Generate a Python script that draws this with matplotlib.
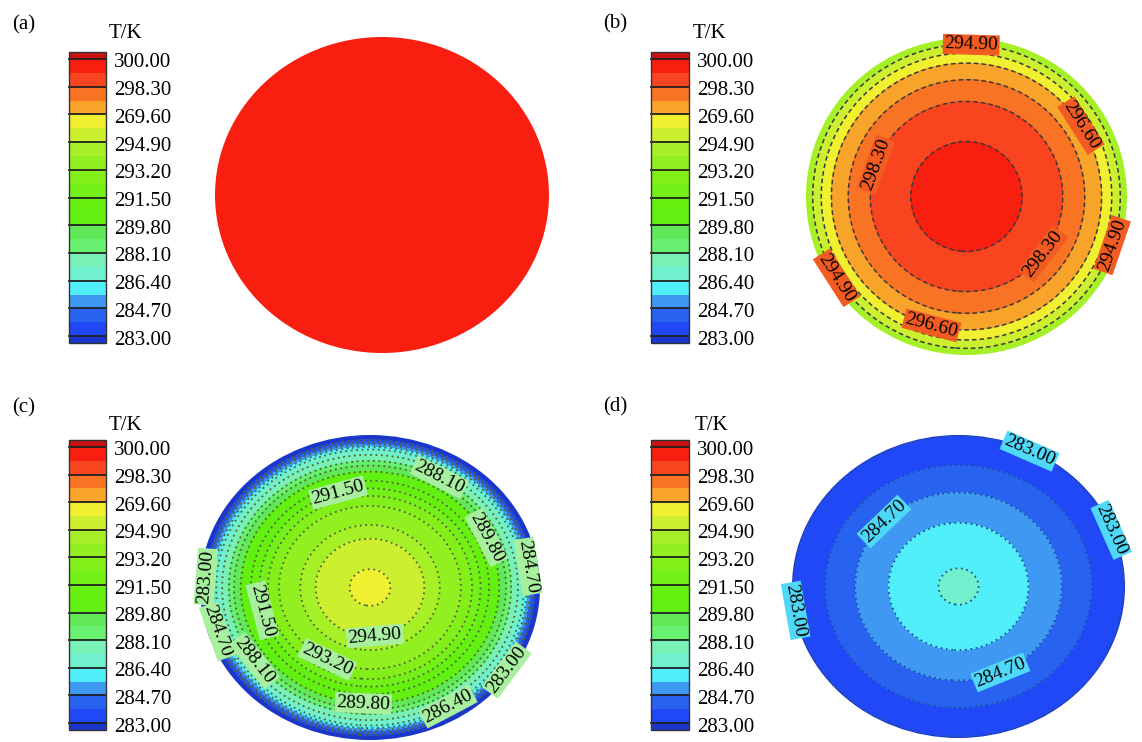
import numpy as np
import matplotlib
matplotlib.use('Agg')
import matplotlib.pyplot as plt
from matplotlib.colors import ListedColormap, BoundaryNorm
from matplotlib.patches import Circle

plt.rcParams['font.family'] = ['Liberation Serif', 'DejaVu Serif']

W, H = 1142, 742

# temperature scale shared by all four panels
levels = np.round(np.linspace(283.0, 300.0, 21), 2)
major = levels[::2]
tick_text = ['283.00', '284.70', '286.40', '288.10', '289.80', '291.50',
             '293.20', '294.90', '269.60', '298.30', '300.00']
band_colors = ['#2048f6', '#2862f0', '#3f98f2', '#50eef8', '#70f0cc',
               '#78f0b6', '#68f070', '#60e858', '#62f012', '#66f010',
               '#72f018', '#82f018', '#92f020', '#a6f028', '#ccf030',
               '#f0f030', '#f8a42a', '#f87424', '#f84520', '#f81e10']

# radial temperature profiles, r normalised to the disc radius
r_a = [0.0, 1.0]
T_a = [300.0, 300.0]

r_b = [0.0, 0.347, 0.60, 0.737, 0.842, 0.905, 0.958, 1.0]
T_b = [299.7, 299.15, 298.3, 297.45, 296.6, 295.75, 294.9, 294.3]

r_c = [0.0, 0.12, 0.32, 0.41, 0.535, 0.60, 0.65, 0.70, 0.76, 0.80,
       0.83, 0.87, 0.905, 0.922, 0.94, 0.955, 0.968, 1.0]
T_c = [296.1, 295.75, 294.9, 294.05, 293.2, 292.35, 291.5, 290.65, 289.8,
       288.95, 288.1, 287.25, 286.4, 285.55, 284.7, 283.85, 283.0, 282.7]

r_d = [0.0, 0.12, 0.42, 0.62, 0.80, 0.99, 1.0]
T_d = [286.8, 286.4, 285.55, 284.7, 283.85, 283.0, 282.98]

cmap = ListedColormap(band_colors).with_extremes(under='#1a36cc', over='#c81212')
norm = BoundaryNorm(levels, cmap.N)

panels = [
    dict(tag='(a)', r=r_a, T=T_a, tag_xy=(12, 25), tk_xy=(109, 33),
         cbar=(69, 52, 37, 291), disc=(215, 37, 334, 316),
         lines=None, labels=[]),
    dict(tag='(b)', r=r_b, T=T_b, tag_xy=(603, 24), tk_xy=(693, 33),
         cbar=(651, 52, 38, 291), disc=(806, 38, 321, 317),
         lines=dict(colors='#3a3a3a', linewidths=1.1, linestyles=[(0, (3, 2))]),
         box='#f25c22',
         labels=[(294.9, (0.03, 0.99)), (296.6, (0.77, 0.49)),
                 (298.3, (-0.53, 0.19)), (298.3, (0.53, -0.40)),
                 (294.9, (1.0, -0.34)), (294.9, (-0.82, -0.52)),
                 (296.6, (-0.21, -0.78))]),
    dict(tag='(c)', r=r_c, T=T_c, tag_xy=(12, 408), tk_xy=(109, 425),
         cbar=(69, 440, 37, 290), disc=(200, 435, 340, 305),
         lines=dict(colors='#4f6438', linewidths=1.3, linestyles=[(0, (1, 2))]),
         box='#a8f0a0',
         labels=[(288.1, (0.42, 0.75)), (291.5, (-0.19, 0.63)),
                 (289.8, (0.69, 0.33)), (284.7, (0.94, 0.14)),
                 (283.0, (-0.93, 0.07)), (291.5, (-0.60, -0.14)),
                 (284.7, (-0.88, -0.28)), (288.1, (-0.66, -0.46)),
                 (294.9, (0.03, -0.34)), (293.2, (-0.25, -0.47)),
                 (289.8, (-0.04, -0.78)), (286.4, (0.47, -0.80)),
                 (283.0, (0.83, -0.56))]),
    dict(tag='(d)', r=r_d, T=T_d, tag_xy=(603, 407), tk_xy=(695, 425),
         cbar=(651, 440, 38, 290), disc=(792, 435, 333, 303),
         lines=dict(colors='#1f4f9f', linewidths=1.3, linestyles=[(0, (1, 2))]),
         box='#50d8f8',
         labels=[(283.0, (0.43, 0.90)), (283.0, (0.91, 0.37)),
                 (284.7, (-0.44, 0.42)), (283.0, (-0.99, -0.16)),
                 (284.7, (0.27, -0.62))]),
]


def px_axes(fig, left, top, width, height):
    return fig.add_axes([left / W, 1 - (top + height) / H, width / W, height / H])


fig = plt.figure(figsize=(W / 100, H / 100), dpi=100)

g = np.linspace(-1.05, 1.05, 600)
X, Y = np.meshgrid(g, g)
R = np.hypot(X, Y)

for p in panels:
    # disc
    ax = px_axes(fig, *p['disc'])
    ax.set_xlim(-1, 1)
    ax.set_ylim(-1, 1)
    ax.axis('off')
    Z = np.interp(R, p['r'], p['T'])
    if np.ptp(p['T']) == 0:
        Z = Z.copy()
        Z[0, 0] -= 1e-3
    cf = ax.contourf(X, Y, Z, levels=levels, cmap=cmap, norm=norm, extend='both')
    cf.set_clip_path(Circle((0, 0), 1.0, transform=ax.transData))

    if p['lines'] is not None:
        cl = ax.contour(X, Y, Z, levels=levels, **p['lines'])
        cl.set_clip_path(Circle((0, 0), 1.0, transform=ax.transData))
        # labels are placed on single-level helper sets drawn with zero width
        for lv, pos in p['labels']:
            hs = ax.contour(X, Y, Z, levels=[lv], linewidths=0)
            for t in ax.clabel(hs, manual=[pos], fmt='%.2f', fontsize=14,
                               inline=False):
                t.set_color('black')
                t.set_clip_on(False)
                t.set_bbox(dict(boxstyle='square,pad=0.08', fc=p['box'], ec='none'))

    # colour bar
    cax = px_axes(fig, *p['cbar'])
    cb = fig.colorbar(cf, cax=cax, extend='both', extendrect=True,
                      extendfrac=0.025, ticks=[])
    cb.outline.set_linewidth(1.0)
    cb.outline.set_edgecolor('#333333')
    cb.minorticks_off()
    for lv, s in zip(major, tick_text):
        cax.axhline(lv, color='#202020', lw=1.3, clip_on=False)
        cax.annotate(s, xy=(1, lv), xycoords=('axes fraction', 'data'),
                     xytext=(8, -4), textcoords='offset pixels',
                     ha='left', va='center', fontsize=15, annotation_clip=False)

    fig.text(p['tag_xy'][0] / W, 1 - p['tag_xy'][1] / H, p['tag'],
             ha='left', va='center', fontsize=15)
    fig.text(p['tk_xy'][0] / W, 1 - p['tk_xy'][1] / H, 'T/K',
             ha='left', va='center', fontsize=15)

fig.savefig('out.png', dpi=100)
